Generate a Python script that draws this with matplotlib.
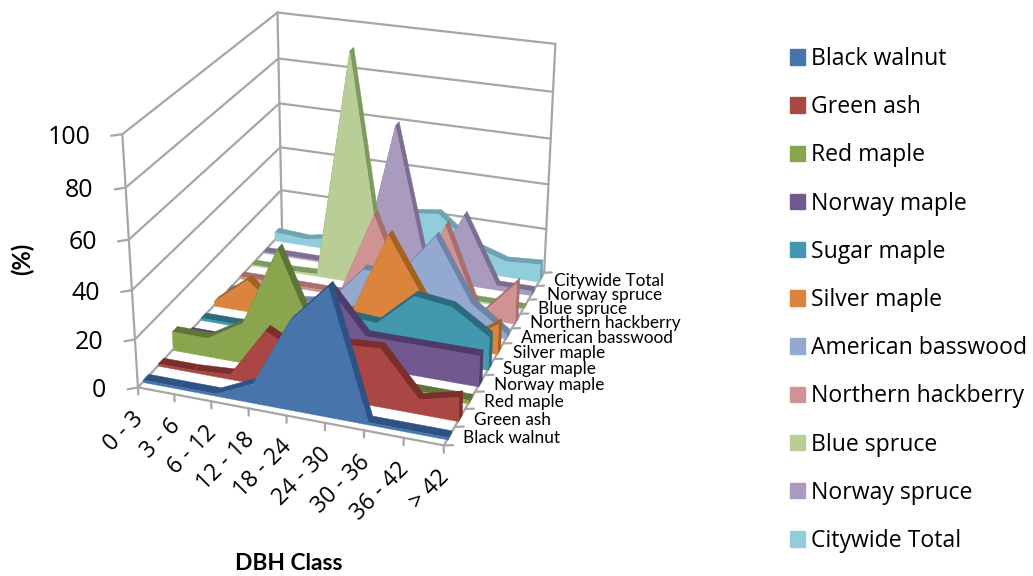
#!/usr/bin/env python3
"""3D area chart of DBH class distribution by species, drawn on mplot3d axes."""
import matplotlib
matplotlib.use("Agg")
import matplotlib.pyplot as plt
from matplotlib.patches import Patch
from mpl_toolkits.mplot3d import proj3d
from mpl_toolkits.mplot3d.art3d import Poly3DCollection

W, H = 1033, 576

CLASSES = ["0 - 3", "3 - 6", "6 - 12", "12 - 18", "18 - 24", "24 - 30", "30 - 36", "36 - 42", "> 42"]
SERIES = ["Black walnut", "Green ash", "Red maple", "Norway maple", "Sugar maple", "Silver maple",
          "American basswood", "Northern hackberry", "Blue spruce", "Norway spruce", "Citywide Total"]

BLACK_WALNUT = [1, 1, 1, 8, 36, 52, 1, 1, 1]
GREEN_ASH = [1, 1, 2, 23, 15, 23, 24, 6, 10]
RED_MAPLE = [8, 8, 17, 50, 15, 1.5, 1.5, 1.5, 1.5]
NORWAY_MAPLE = [1, 1, 4, 15, 31, 13, 13, 13, 13]
SUGAR_MAPLE = [1, 1, 3, 10, 13, 12, 26, 24, 14]
SILVER_MAPLE = [2, 14, 2, 3, 8, 43, 18, 2, 13]
AMERICAN_BASSWOOD = [1, 1, 1, 3, 20, 20, 39, 13, 2]
NORTHERN_HACKBERRY = [1, 1, 1, 1, 38, 1, 38, 1, 18]
BLUE_SPRUCE = [0.5, 0.5, 1, 100, 0.5, 0.5, 0.5, 0.5, 0.5]
NORWAY_SPRUCE = [0.5, 0.5, 0.5, 1, 66, 0.5, 31, 2, 2]
CITYWIDE_TOTAL = [4, 3, 6, 15, 22, 24, 12, 7, 8]
VALUES = [BLACK_WALNUT, GREEN_ASH, RED_MAPLE, NORWAY_MAPLE, SUGAR_MAPLE, SILVER_MAPLE,
          AMERICAN_BASSWOOD, NORTHERN_HACKBERRY, BLUE_SPRUCE, NORWAY_SPRUCE, CITYWIDE_TOTAL]

FRONT = ["#4674AB", "#AA4643", "#89A54E", "#71588F", "#4198AF", "#DB843D",
         "#93A9CF", "#D19392", "#B9CD96", "#A99BBD", "#92CDDC"]
TOP = ["#2F5284", "#7C2E2C", "#5F7537", "#4E3B69", "#2C6B7D", "#A5611F",
       "#6E83A8", "#A66E6D", "#7E9A5E", "#7C6E92", "#6FA3B2"]
GRID = "#A6A6A6"
SLAB = (0.32, 0.68)  # front and back of each ribbon within its depth slot

fig = plt.figure(figsize=(W / 100, H / 100), dpi=100)
ax = fig.add_axes([78.41 / W, 90.94 / H, 535.53 / W, 535.53 / H],
                  projection="3d", computed_zorder=False)
ax.set_xlim3d(0, len(CLASSES) - 1)
ax.set_ylim3d(0, len(SERIES))
ax.set_zlim3d(0, 100)
ax.view_init(24.6130, -70.1165, 0.1202)
ax.set_proj_type("persp", focal_length=0.6009)
ax.set_box_aspect((1.1713, 1.4102, 1), zoom=1)
ax.set_axis_off()
ax.patch.set_alpha(0)
ax.apply_aspect()
M = ax.get_proj()


def face(verts, color, z):
    ax.add_collection3d(Poly3DCollection([verts], facecolor=color, edgecolor=color,
                                         linewidth=0.3, zorder=z, clip_on=False), autolim=False)


def seg(a, b):
    ax.plot(*zip(a, b), color=GRID, lw=1.6, zorder=1, clip_on=False, solid_capstyle="round")


def label(x, y, z, text, dx=0, dy=0, **kw):
    # plain 2D text placed where the 3D point lands on screen
    px, py, _ = proj3d.proj_transform(x, y, z, M)
    ax.annotate(text, (px, py), xytext=(dx, dy), textcoords="offset pixels", annotation_clip=False, **kw)


# back walls and floor edges
for z in range(0, 101, 20):
    seg((0, 0, z), (0, 11, z))
    seg((0, 11, z), (8, 11, z))
    seg((0, 0, z), (-0.2, -0.2, z))
    label(0, 0, z, str(z), dx=-32, dy=-3, ha="right", va="center", fontsize=18, family="Open Sans")
seg((0, 0, 0), (0, 0, 100))
seg((0, 11, 0), (0, 11, 100))
seg((8, 11, 0), (8, 11, 100))
seg((0, 0, 0), (8, 0, 0))
seg((8, 0, 0), (8, 11, 0))

for i, name in enumerate(CLASSES):
    seg((i, 0, 0), (i, 0, -3))
    label(i, 0, -3, name, dx=2, dy=-21, rotation=45, rotation_mode="anchor", ha="right", va="center",
          fontsize=16.5, family="Open Sans")
for i in range(len(SERIES) + 1):
    seg((8, i, 0), (8.2, i + 0.1, 0))
for i, name in enumerate(SERIES):
    label(8, i + 0.5, 0, name, dx=14, dy=-2, ha="left", va="center", fontsize=12.4, family="Lato")

# ribbons, painted from the back series forward
for i in range(len(SERIES) - 1, -1, -1):
    v = VALUES[i]
    y0, y1 = i + SLAB[0], i + SLAB[1]
    base = (len(SERIES) - i) * 20
    for j in range(len(v) - 1):
        face([(j, y0, v[j]), (j + 1, y0, v[j + 1]), (j + 1, y1, v[j + 1]), (j, y1, v[j])], TOP[i], base + j)
    face([(8, y0, 0), (8, y0, v[8]), (8, y1, v[8]), (8, y1, 0)], TOP[i], base + 9)
    face([(0, y0, 0)] + [(j, y0, v[j]) for j in range(len(v))] + [(8, y0, 0)], FRONT[i], base + 10)

fig.legend(handles=[Patch(color=c, label=s) for c, s in zip(FRONT, SERIES)], loc="upper left",
           bbox_to_anchor=(790 / W, 1 - 47 / H), frameon=False, prop={"family": "Open Sans", "size": 16.6},
           labelspacing=1.05, handlelength=0.65, handleheight=0.65, handletextpad=0.26,
           borderpad=0, borderaxespad=0)
fig.text(22 / W, 1 - 259 / H, "(%)", rotation=90, ha="center", va="center", fontsize=17,
         fontweight="bold", family="Lato")
fig.text(289 / W, 1 - 563 / H, "DBH Class", ha="center", va="center", fontsize=16.4,
         fontweight="bold", family="Lato")

fig.savefig("out.png", dpi=100)
